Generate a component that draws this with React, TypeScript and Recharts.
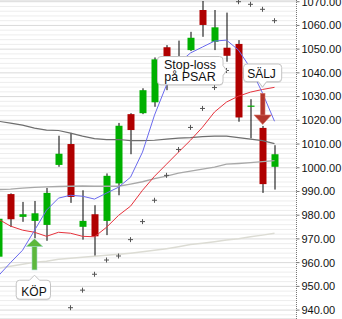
import React from 'react';
import { ComposedChart, Bar, Line, XAxis, YAxis, CartesianGrid, ReferenceDot } from 'recharts';

const days = ['1','2','3','4','5','6','7','8','9','10','11','12','13','14','15','16','17','18','19','20','21','22','23','24'];
const open = [962.5, 988.9, 979.3, 977.6, 975.9, 1001.2, 1010.0, 975.1, 980.4, 977.6, 993.4, 1022.6, 1023.0, 1027.6, 1050.8, 1041.0, 1049.6, 1066.5, 1053.1, 1050.6, 1052.2, 1025.8, 1016.8, 1000.4];
const close = [978.5, 978.3, 980.4, 980.8, 989.4, 1005.9, 987.7, 977.6, 971.1, 996.6, 1017.7, 1015.9, 1032.7, 1045.7, 1042.0, 1045.0, 1054.8, 1060.2, 1059.2, 1047.2, 1021.2, 1026.2, 993.1, 1005.7];
const high = [979.5, 989.2, 985.6, 986.0, 991.5, 1013.5, 1014.7, 990.5, 984.2, 997.6, 1018.9, 1023.0, 1033.5, 1046.5, 1051.7, 1053.6, 1057.3, 1070.3, 1066.5, 1065.4, 1053.8, 1028.9, 1017.6, 1009.5];
const low = [959.0, 975.0, 977.2, 970.3, 969.2, 1000.4, 985.2, 969.7, 962.7, 971.6, 988.4, 1005.7, 1022.6, 1025.7, 1032.7, 1038.0, 1049.2, 1055.2, 1049.6, 1044.7, 1019.4, 1012.4, 989.4, 990.8];
const maBlue = [954.5, 960.0, 965.2, 973.6, 982.1, 987.2, 988.4, 988.0, 986.8, 989.3, 991.8, 996.0, 1006.6, 1022.2, 1034.9, 1044.1, 1048.4, 1050.9, 1053.4, 1053.8, 1049.6, 1042.0, 1031.5, 1019.6];
const maRed = [978.3, 975.4, 973.7, 972.8, 971.1, 972.8, 972.4, 971.1, 970.9, 974.9, 979.9, 983.8, 990.5, 996.4, 1001.5, 1006.6, 1011.6, 1017.1, 1023.5, 1027.7, 1030.2, 1031.9, 1033.0, 1033.9];
const maDark = [1019.6, 1018.8, 1018.0, 1016.7, 1015.9, 1015.7, 1014.6, 1013.3, 1012.3, 1011.9, 1011.9, 1011.4, 1011.4, 1011.6, 1012.1, 1012.5, 1012.7, 1013.1, 1013.3, 1013.3, 1012.7, 1012.1, 1011.4, 1010.2];
const maGray = [990.8, 991.0, 991.4, 991.7, 991.9, 992.1, 992.2, 992.3, 992.2, 992.2, 992.2, 993.1, 994.1, 995.4, 996.5, 997.7, 998.6, 999.4, 1000.3, 1001.5, 1001.8, 1002.2, 1002.6, 1003.0];
const maLight = [957.6, 958.5, 959.3, 960.2, 960.6, 961.4, 961.9, 962.3, 962.7, 963.1, 963.5, 964.0, 964.6, 965.2, 965.9, 966.7, 967.6, 968.2, 968.8, 969.5, 970.1, 970.9, 971.6, 972.4];
const psar = [null, null, null, null, null, null, 941.0, 948.4, 955.1, 961.1, 962.8, 969.7, 977.3, 986.3, 996.8, 1007.7, 1017.0, 1025.0, 1033.8, 1041.0, 1070.0, 1068.9, 1066.8, 1062.0];
const priceTicks = [940, 950, 960, 970, 980, 990, 1000, 1010, 1020, 1030, 1040, 1050, 1060, 1070];
const minorTicks: number[] = [];
for (let v = 938; v <= 1070; v += 2) if (v % 10 !== 0) minorTicks.push(v);

const buyIndex = 3;
const sellIndex = 22;
const stopIndex = 19;
const yDomain: [number, number] = [936.24, 1070.72];

const data = days.map((d, i) => ({
  day: d, o: open[i], c: close[i], h: high[i], l: low[i],
  range: [low[i], high[i]],
  blue: maBlue[i], red: maRed[i], dark: maDark[i], gray: maGray[i], light: maLight[i],
  sar: psar[i],
}));

const UP = '#00b000';
const DOWN = '#b00000';
const FONT = '"Liberation Sans", Arial, Helvetica, sans-serif';

const Candle = (props: any) => {
  const { x, y, width, height, payload } = props;
  if (x == null || y == null || !payload) return null;
  const top = Math.min(y, y + height);
  const hh = Math.abs(height);
  const { o, c, h, l } = payload;
  const py = (v: number) => top + ((h - v) / (h - l)) * hh;
  const cx = x + width / 2;
  const bTop = py(Math.max(o, c));
  const bBot = py(Math.min(o, c));
  return (
    <g>
      <line x1={cx} x2={cx} y1={top} y2={top + hh} stroke="#000" strokeWidth={1} />
      <rect x={x} y={bTop} width={width} height={Math.max(1.2, bBot - bTop)} fill={c >= o ? UP : DOWN} />
    </g>
  );
};

const Plus = (props: any) => {
  const { cx, cy, index } = props;
  if (cx == null || cy == null || isNaN(cy)) return <g key={index} />;
  return (
    <g key={index}>
      <line x1={cx - 2.5} x2={cx + 2.5} y1={cy} y2={cy} stroke="#555" strokeWidth={1} />
      <line x1={cx} x2={cx} y1={cy - 2.5} y2={cy + 2.5} stroke="#555" strokeWidth={1} />
    </g>
  );
};

function calloutPath(L: number, T: number, R: number, B: number, side: string, tx: number, ty: number, hw: number) {
  const r = 3.5;
  if (side === 'right') {
    return `M${L + r},${T} H${R - r} Q${R},${T} ${R},${T + r} V${ty - hw} L${tx},${ty} L${R},${ty + hw} V${B - r} Q${R},${B} ${R - r},${B} H${L + r} Q${L},${B} ${L},${B - r} V${T + r} Q${L},${T} ${L + r},${T} Z`;
  }
  if (side === 'top') {
    return `M${L + r},${T} H${tx - hw} L${tx},${ty} L${tx + hw},${T} H${R - r} Q${R},${T} ${R},${T + r} V${B - r} Q${R},${B} ${R - r},${B} H${L + r} Q${L},${B} ${L},${B - r} V${T + r} Q${L},${T} ${L + r},${T} Z`;
  }
  return `M${L + r},${T} H${R - r} Q${R},${T} ${R},${T + r} V${B - r} Q${R},${B} ${R - r},${B} H${tx + hw} L${tx},${ty} L${tx - hw},${B} H${L + r} Q${L},${B} ${L},${B - r} V${T + r} Q${L},${T} ${L + r},${T} Z`;
}

const Bubble = ({ d }: { d: string }) => (
  <g>
    <path d={d} transform="translate(0,1)" fill="rgba(0,0,0,0.12)" />
    <path d={d} fill="#fff" stroke="#c4c4c4" strokeWidth={1} />
  </g>
);

const BuyMarker = (p: any) => {
  const { cx, cy } = p;
  if (cx == null || cy == null) return null;
  return (
    <g>
      <rect x={cx - 2.5} y={cy + 8} width={5} height={23.7} fill="#5cb83c" stroke="#9fd8c8" strokeWidth={0.6} />
      <path d={`M${cx},${cy + 0.5} L${cx + 8.3},${cy + 8.3} L${cx - 8.3},${cy + 8.3} Z`} fill="#5cb83c" stroke="#9fd8c8" strokeWidth={0.6} />
      <Bubble d={calloutPath(cx - 18.3, cy + 42, cx + 16, cy + 61, 'top', cx, cy + 37, 5)} />
      <text x={cx - 0.5} y={cy + 57.5} textAnchor="middle" fontSize={12} fontFamily={FONT} fill="#111">KÖP</text>
    </g>
  );
};

const SellMarker = (p: any) => {
  const { cx, cy } = p;
  if (cx == null || cy == null) return null;
  return (
    <g>
      <rect x={cx - 2} y={cy - 32.7} width={4.5} height={22} fill="#b3362c" stroke="#d9776a" strokeWidth={0.6} />
      <path d={`M${cx + 0.2},${cy - 1.5} L${cx + 8.9},${cy - 11} L${cx - 8.5},${cy - 11} Z`} fill="#b3362c" stroke="#d9776a" strokeWidth={0.6} />
      <Bubble d={calloutPath(cx - 19, cy - 62, cx + 19.2, cy - 44.3, 'bottom', cx, cy - 39, 4)} />
      <text x={cx - 1} y={cy - 47.8} textAnchor="middle" fontSize={12} fontFamily={FONT} fill="#111">SÄLJ</text>
    </g>
  );
};

const StopMarker = (p: any) => {
  const { cx, cy } = p;
  if (cx == null || cy == null) return null;
  return (
    <g>
      <Bubble d={calloutPath(cx - 69, cy - 14, cx - 3.5, cy + 14.3, 'right', cx, cy, 5)} />
      <text x={cx - 36.5} y={cy - 1.8} textAnchor="middle" fontSize={12.5} fontFamily={FONT} fill="#111">Stop-loss</text>
      <text x={cx - 36.5} y={cy + 10.8} textAnchor="middle" fontSize={12.5} fontFamily={FONT} fill="#111">på PSAR</text>
    </g>
  );
};

export default function App() {
  return (
    <div style={{ position: 'absolute', left: -8, top: 0, width: 350, height: 319, background: '#fff' }}>
      <ComposedChart width={350} height={319} data={data} margin={{ top: 0, right: 0, bottom: 0, left: 0.5 }}>
        <XAxis dataKey="day" hide padding={{ left: 0, right: 16 }} />
        <YAxis yAxisId="minor" hide domain={yDomain} allowDataOverflow ticks={minorTicks} interval={0} />
        <YAxis
          yAxisId="price"
          orientation="right"
          domain={yDomain}
          allowDataOverflow
          ticks={priceTicks}
          interval={0}
          width={45.5}
          tickFormatter={(v: number) => v.toFixed(2)}
          tick={{ fill: '#111', fontSize: 11, fontFamily: FONT }}
          tickSize={3}
          tickMargin={2}
          axisLine={{ stroke: '#777', strokeDasharray: '1 1' }}
          tickLine={{ stroke: '#777' }}
        />
        <CartesianGrid yAxisId="minor" vertical={false} stroke="#ededed" strokeWidth={1} />
        <CartesianGrid yAxisId="price" vertical={false} stroke="#dadada" strokeWidth={1} />
        <Bar yAxisId="price" dataKey="range" barSize={7} shape={<Candle />} isAnimationActive={false} />
        <Line yAxisId="price" type="linear" dataKey="light" stroke="#dcdcd4" strokeWidth={1.5} dot={false} activeDot={false} isAnimationActive={false} />
        <Line yAxisId="price" type="linear" dataKey="gray" stroke="#a8a8a8" strokeWidth={1.3} dot={false} activeDot={false} isAnimationActive={false} />
        <Line yAxisId="price" type="linear" dataKey="dark" stroke="#6e6e6e" strokeWidth={1.2} dot={false} activeDot={false} isAnimationActive={false} />
        <Line yAxisId="price" type="linear" dataKey="red" stroke="#e6323c" strokeWidth={1} dot={false} activeDot={false} isAnimationActive={false} />
        <Line yAxisId="price" type="linear" dataKey="blue" stroke="#6a6aee" strokeWidth={1} dot={false} activeDot={false} isAnimationActive={false} />
        <Line yAxisId="price" type="linear" dataKey="sar" stroke="none" dot={(p: any) => <Plus {...p} key={p.index} />} activeDot={false} isAnimationActive={false} />
        <ReferenceDot yAxisId="price" x={days[buyIndex]} y={low[buyIndex]} r={0} ifOverflow="visible" shape={(p: any) => <BuyMarker {...p} />} />
        <ReferenceDot yAxisId="price" x={days[sellIndex]} y={high[sellIndex]} r={0} ifOverflow="visible" shape={(p: any) => <SellMarker {...p} />} />
        <ReferenceDot yAxisId="price" x={days[stopIndex]} y={psar[stopIndex] as number} r={0} ifOverflow="visible" shape={(p: any) => <StopMarker {...p} />} />
      </ComposedChart>
    </div>
  );
}
